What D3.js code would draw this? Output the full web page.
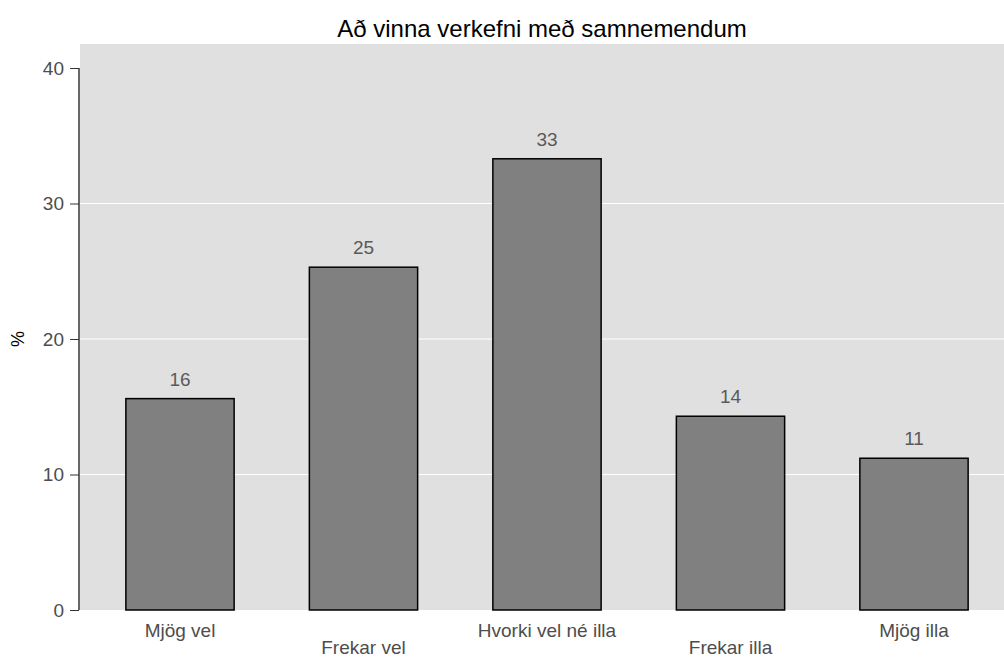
<!DOCTYPE html>
<html>
<head>
<meta charset="utf-8">
<script src="https://cdn.jsdelivr.net/npm/d3@7"></script>
<style>
  body { margin: 0; background: #fff; }
  text { font-family: "Liberation Sans", Arial, sans-serif; }
</style>
</head>
<body>
<svg id="chart" width="1004" height="657"></svg>
<script>
const categories = ['Mjög vel', 'Frekar vel', 'Hvorki vel né illa', 'Frekar illa', 'Mjög illa'];
const values = [15.6, 25.3, 33.3, 14.3, 11.2];
const labels = ['16', '25', '33', '14', '11'];
const yTicks = [0, 10, 20, 30, 40];
const gridTicks = [10, 20, 30];

const svg = d3.select('#chart');

const panel = { left: 80, right: 1004, top: 44, bottom: 610 };

const x = d3.scaleBand()
  .domain(categories)
  .range([88.25, 1005.75])
  .paddingInner(0.41)
  .paddingOuter(0.205);

const y = d3.scaleLinear()
  .domain([0, 40])
  .range([610, 68]);

// panel background
svg.append('rect')
  .attr('x', panel.left)
  .attr('y', panel.top)
  .attr('width', panel.right - panel.left)
  .attr('height', panel.bottom - panel.top)
  .attr('fill', '#e0e0e0');

// grid lines
svg.append('g')
  .selectAll('line')
  .data(gridTicks)
  .enter().append('line')
  .attr('x1', panel.left)
  .attr('x2', panel.right)
  .attr('y1', d => y(d))
  .attr('y2', d => y(d))
  .attr('stroke', '#fff')
  .attr('stroke-width', 1);

// bars
svg.append('g')
  .selectAll('rect')
  .data(values)
  .enter().append('rect')
  .attr('x', (d, i) => x(categories[i]))
  .attr('y', d => y(d))
  .attr('width', x.bandwidth())
  .attr('height', d => y(0) - y(d))
  .attr('fill', '#808080')
  .attr('stroke', '#000')
  .attr('stroke-width', 1.5);

// value labels
svg.append('g')
  .selectAll('text')
  .data(values)
  .enter().append('text')
  .attr('x', (d, i) => x(categories[i]) + x.bandwidth() / 2)
  .attr('y', d => y(d) - 13)
  .attr('text-anchor', 'middle')
  .attr('font-size', 19)
  .attr('fill', '#5a5a5a')
  .text((d, i) => labels[i]);

// y axis
const yAxis = svg.append('g')
  .attr('transform', `translate(${panel.left - 1},0)`)
  .call(d3.axisLeft(y).tickValues(yTicks).tickSize(9).tickPadding(6));
yAxis.select('.domain').attr('stroke', '#000').attr('stroke-width', 1.2)
  .attr('d', `M0,${y(40)}V${y(0)}`);
yAxis.selectAll('.tick line').attr('stroke', '#333');
yAxis.selectAll('.tick text')
  .attr('font-size', 19)
  .attr('fill', '#4d4d4d')
  .style('font-family', '"Liberation Sans", Arial, sans-serif');

// x labels, staggered
svg.append('g')
  .selectAll('text')
  .data(categories)
  .enter().append('text')
  .attr('x', d => x(d) + x.bandwidth() / 2)
  .attr('y', (d, i) => i % 2 === 0 ? 637 : 654)
  .attr('text-anchor', 'middle')
  .attr('font-size', 19)
  .attr('fill', '#4d4d4d')
  .text(d => d);

// y title
svg.append('text')
  .attr('transform', `translate(24,${(y(0) + y(40)) / 2}) rotate(-90)`)
  .attr('text-anchor', 'middle')
  .attr('font-size', 18)
  .attr('fill', '#000')
  .text('%');

// title
svg.append('text')
  .attr('x', (panel.left + panel.right) / 2)
  .attr('y', 37)
  .attr('text-anchor', 'middle')
  .attr('font-size', 24)
  .attr('fill', '#000')
  .text('Að vinna verkefni með samnemendum');
</script>
</body>
</html>
